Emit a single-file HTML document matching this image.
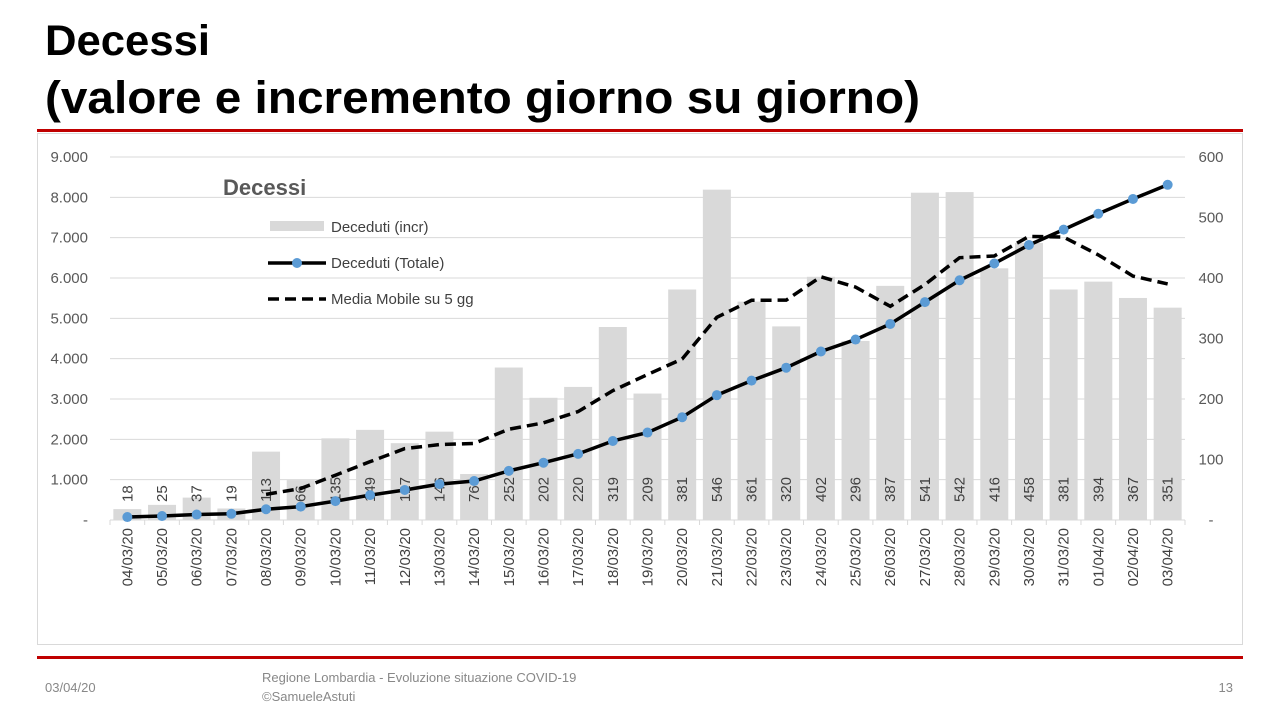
<!DOCTYPE html>
<html><head><meta charset="utf-8"><style>
html,body{margin:0;padding:0;background:#fff;width:1280px;height:720px;overflow:hidden}
svg{display:block;font-family:"Liberation Sans",sans-serif}
</style></head><body>
<svg id="s" width="1280" height="720" xmlns="http://www.w3.org/2000/svg">
<text x="45" y="55" font-size="43" font-weight="bold" textLength="165" lengthAdjust="spacingAndGlyphs">Decessi</text>
<text x="45" y="113" font-size="45" font-weight="bold" textLength="875" lengthAdjust="spacingAndGlyphs">(valore e incremento giorno su giorno)</text>
<rect x="37" y="129" width="1206" height="3" fill="#c00000"/>
<rect x="37.5" y="133.5" width="1205" height="511" fill="none" stroke="#d9d9d9"/>
<rect x="37" y="656" width="1206" height="3" fill="#c00000"/>
<text x="45" y="692" font-size="13" fill="#888">03/04/20</text>
<text x="262" y="682" font-size="13" fill="#888">Regione Lombardia - Evoluzione situazione COVID-19</text>
<text x="262" y="701" font-size="13" fill="#888">©SamueleAstuti</text>
<text x="1233" y="692" font-size="13" fill="#888" text-anchor="end">13</text>
<g id="c"></g>
</svg>
<script>
(function(){
var inc=[18,25,37,19,113,66,135,149,127,146,76,252,202,220,319,209,381,546,361,320,402,296,387,541,542,416,458,381,394,367,351];
var dates=[];for(var d=4;d<=31;d++)dates.push((d<10?'0':'')+d+'/03/20');dates.push('01/04/20','02/04/20','03/04/20');
var n=31,x0=110,x1=1185,st=(x1-x0)/n,yb=520,yt=157;
function yl(v){return yb-v*(yb-yt)/9000}function yr(v){return yb-v*(yb-yt)/600}
function cx(i){return x0+st*(i+0.5)}
var h='';
for(var k=1;k<=9;k++){var y=yl(k*1000);h+='<line x1="'+x0+'" x2="'+x1+'" y1="'+y+'" y2="'+y+'" stroke="#d9d9d9"/>';}
for(k=0;k<=9;k++){h+='<text x="88" y="'+(yl(k*1000)+5)+'" font-size="15" fill="#595959" text-anchor="end">'+(k==0?'-':k+'.000')+'</text>';}
for(k=0;k<=6;k++){h+='<text x="1211" y="'+(yr(k*100)+5)+'" font-size="15" fill="#595959" text-anchor="middle">'+(k==0?'-':k*100)+'</text>';}
for(var i=0;i<n;i++){var y=yr(inc[i]);h+='<rect x="'+(cx(i)-14)+'" y="'+y+'" width="28" height="'+(yb-y)+'" fill="#d9d9d9"/>';}
h+='<line x1="'+x0+'" x2="'+x1+'" y1="'+yb+'" y2="'+yb+'" stroke="#d9d9d9"/>';
for(i=0;i<=n;i++){var x=x0+st*i;h+='<line x1="'+x+'" x2="'+x+'" y1="'+yb+'" y2="'+(yb+5)+'" stroke="#d9d9d9"/>';}
for(i=0;i<n;i++){var x=cx(i)+5;h+='<text transform="translate('+x+',502) rotate(-90)" font-size="15" fill="#404040">'+inc[i]+'</text>';
h+='<text transform="translate('+x+',528) rotate(-90)" font-size="15" fill="#404040" text-anchor="end">'+dates[i]+'</text>';}
var cum=[],s=8311;for(i=n-1;i>=0;i--){cum[i]=s;s-=inc[i];}
var p='';for(i=0;i<n;i++)p+=(i?'L':'M')+cx(i)+' '+yl(cum[i]);
var m='';for(i=4;i<n;i++){var a=0;for(var j=i-4;j<=i;j++)a+=inc[j];m+=(i>4?'L':'M')+cx(i)+' '+yr(a/5);}
h+='<path d="'+m+'" fill="none" stroke="#000" stroke-width="3.5" stroke-dasharray="11,6"/>';
h+='<path d="'+p+'" fill="none" stroke="#000" stroke-width="3.5" stroke-linejoin="round"/>';
for(i=0;i<n;i++)h+='<circle cx="'+cx(i)+'" cy="'+yl(cum[i])+'" r="5" fill="#5b9bd5"/>';
h+='<text x="223" y="195" font-size="22" font-weight="bold" fill="#595959">Decessi</text>';
h+='<rect x="270" y="221" width="54" height="10" fill="#d9d9d9"/><text x="331" y="232" font-size="15" fill="#404040">Deceduti (incr)</text>';
h+='<line x1="268" x2="326" y1="263" y2="263" stroke="#000" stroke-width="3.5"/><circle cx="297" cy="263" r="5" fill="#5b9bd5"/><text x="331" y="268" font-size="15" fill="#404040">Deceduti (Totale)</text>';
h+='<line x1="268" x2="326" y1="299" y2="299" stroke="#000" stroke-width="3.5" stroke-dasharray="11,6"/><text x="331" y="304" font-size="15" fill="#404040">Media Mobile su 5 gg</text>';
document.getElementById('c').innerHTML=h;
})();
</script>
</body></html>
